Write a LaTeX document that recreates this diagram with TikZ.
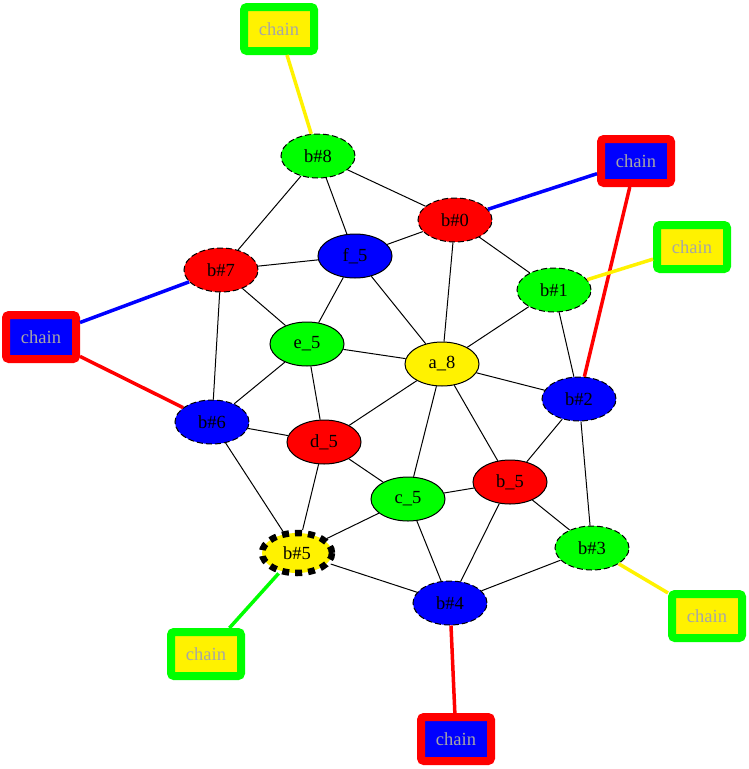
\documentclass[tikz,border=0pt]{standalone}
\usepackage{fontspec}
\setmainfont{Liberation Serif}
\usetikzlibrary{shapes.geometric}

\begin{document}
\begin{tikzpicture}[x=1pt, y=-1pt, line width=1pt,
    bead/.style={ellipse, draw, minimum width=74pt, minimum height=44pt, inner sep=0pt, font=\fontsize{18.5}{20}\selectfont},
    bdash/.style={bead, dash pattern=on 6pt off 3pt},
    chainbox/.style={draw, line width=8pt, rounded corners=3pt, minimum width=70pt, minimum height=44pt, inner sep=0pt, text=gray!70, font=\fontsize{18.5}{20}\selectfont},
    link/.style={line width=3.5pt}]
    \useasboundingbox (0,0) rectangle (748,769);
    % inner beads
    \node[bead, fill=blue] (f5) at (355,256) {f\_5};
    \node[bead, fill=green] (e5) at (307,344) {e\_5};
    \node[bead, fill=yellow] (a8) at (442,364) {a\_8};
    \node[bead, fill=red] (d5) at (324,442) {d\_5};
    \node[bead, fill=green] (c5) at (408,499) {c\_5};
    \node[bead, fill=red] (b5) at (510,482) {b\_5};
    % outer beads
    \node[bdash, fill=green] (b8) at (318,156) {b\#8};
    \node[bdash, fill=red] (b0) at (455,220) {b\#0};
    \node[bdash, fill=red] (b7) at (221,270) {b\#7};
    \node[bdash, fill=green] (b1) at (554,290) {b\#1};
    \node[bdash, fill=blue] (b2) at (579,399) {b\#2};
    \node[bdash, fill=blue] (b6) at (212,422) {b\#6};
    \node[bdash, fill=green] (b3) at (592,548) {b\#3};
    \node[bead, fill=yellow, line width=6.5pt, dash pattern=on 7pt off 6pt, minimum width=70pt, minimum height=40pt] (b5x) at (297,553) {b\#5};
    \node[bdash, fill=blue] (b4) at (450,603) {b\#4};
    % chains
    \node[chainbox, draw=green, fill=yellow] (ch8) at (279,29) {chain};
    \node[chainbox, draw=red, fill=blue] (ch0) at (636,161) {chain};
    \node[chainbox, draw=green, fill=yellow] (ch1) at (692,247) {chain};
    \node[chainbox, draw=red, fill=blue] (ch7) at (41,337) {chain};
    \node[chainbox, draw=green, fill=yellow] (ch3) at (707,616) {chain};
    \node[chainbox, draw=green, fill=yellow] (ch5) at (206,654) {chain};
    \node[chainbox, draw=red, fill=blue] (ch4) at (456,739) {chain};
    % bonds
    \foreach \u/\v in {b8/b7, b8/f5, b8/b0, b0/f5, b0/a8, b0/b1, f5/b7, f5/e5, f5/a8,
        b7/e5, b7/b6, b1/a8, b1/b2, e5/a8, e5/b6, e5/d5, a8/b2, a8/d5, a8/c5, a8/b5,
        b2/b5, b2/b3, b6/d5, b6/b5x, d5/c5, d5/b5x, c5/b5, c5/b5x, c5/b4, b5/b4,
        b5/b3, b3/b4, b5x/b4}
        \draw (\u) -- (\v);
    % chain links
    \draw[link, yellow] (ch8) -- (b8);
    \draw[link, blue] (ch0) -- (b0);
    \draw[link, red] (ch0) -- (b2);
    \draw[link, yellow] (ch1) -- (b1);
    \draw[link, blue] (ch7) -- (b7);
    \draw[link, red] (ch7) -- (b6);
    \draw[link, yellow] (ch3) -- (b3);
    \draw[link, green] (ch5) -- (b5x);
    \draw[link, red] (ch4) -- (b4);
\end{tikzpicture}
\end{document}
